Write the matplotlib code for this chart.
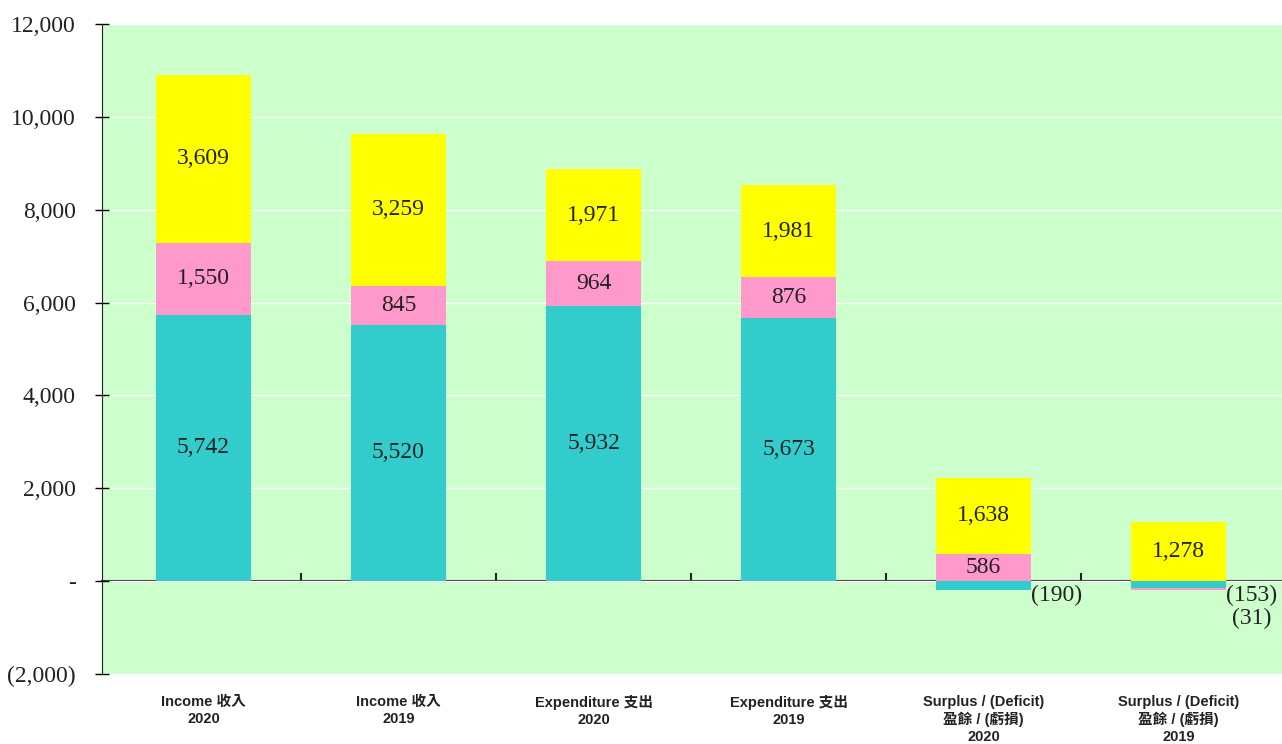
import numpy as np
import matplotlib.pyplot as plt
from matplotlib.ticker import FuncFormatter, FixedLocator

categories = [
    "Income 收入\n2020",
    "Income 收入\n2019",
    "Expenditure 支出\n2020",
    "Expenditure 支出\n2019",
    "Surplus / (Deficit)\n盈餘 / (虧損)\n2020",
    "Surplus / (Deficit)\n盈餘 / (虧損)\n2019",
]
teal_vals = [5742, 5520, 5932, 5673, -190, -153]
pink_vals = [1550, 845, 964, 876, 586, -31]
yellow_vals = [3609, 3259, 1971, 1981, 1638, 1278]

series = [teal_vals, pink_vals, yellow_vals]
colors = ["#33CCCC", "#FF99CC", "#FFFF00"]

num_font = "Liberation Serif"
lab_font = ["Liberation Sans", "Noto Sans CJK TC"]
txt_color = "#222222"

fig = plt.figure(figsize=(12.82, 7.44), dpi=100)
ax = fig.add_axes([102 / 1282, 1 - 674 / 744, 1180 / 1282, 650 / 744])
ax.set_facecolor("#CCFFCC")

x = np.arange(len(categories))
width = 0.49

# stack positives upward and negatives downward
pos_base = np.zeros(len(x))
neg_base = np.zeros(len(x))
neg_labels = [[] for _ in x]
for vals, col in zip(series, colors):
    vals = np.array(vals, dtype=float)
    bottoms = np.where(vals >= 0, pos_base, neg_base)
    ax.bar(x, vals, width, bottom=bottoms, color=col, zorder=2)
    for i, v in enumerate(vals):
        if v >= 0:
            ax.text(x[i], bottoms[i] + v / 2, f"{int(v):,}", ha="center", va="center",
                    fontsize=17, family=num_font, color=txt_color, zorder=4)
        else:
            neg_labels[i].append(f"({int(-v):,})")
    pos_base += np.where(vals >= 0, vals, 0)
    neg_base += np.where(vals < 0, vals, 0)

# negative values are labelled beside the bar, below the zero line
for i, labs in enumerate(neg_labels):
    if labs:
        ax.annotate("\n".join(labs), (x[i] + width / 2, 0), xytext=(0, -3),
                    textcoords="offset points", ha="left", va="top",
                    multialignment="center", linespacing=1.1,
                    fontsize=17, family=num_font, color=txt_color, zorder=4)

ax.set_ylim(-2000, 12000)
ax.set_xlim(-0.52, 5.53)
ax.set_yticks(np.arange(-2000, 12001, 2000))


def fmt(v, pos):
    if v == 0:
        return "-"
    if v < 0:
        return f"({int(-v):,})"
    return f"{int(v):,}"


ax.yaxis.set_major_formatter(FuncFormatter(fmt))
ax.tick_params(axis="y", direction="inout", length=10, width=1, pad=14,
               labelsize=17, labelcolor=txt_color)
for t in ax.get_yticklabels():
    t.set_family(num_font)

ax.yaxis.grid(True, color="white", lw=1, zorder=0)
ax.set_axisbelow(True)

ax.set_xticks(x)
ax.set_xticklabels(categories, fontsize=10.5, fontweight="bold", family=lab_font,
                   linespacing=1.25, color=txt_color, va="top")
ax.tick_params(axis="x", length=0, pad=15)

for s in ["top", "right", "bottom"]:
    ax.spines[s].set_visible(False)
ax.spines["left"].set_color("#222222")

# zero line with category dividers
zero_ax = ax.secondary_xaxis(2000 / 14000)
zero_ax.xaxis.set_major_locator(FixedLocator(x[:-1] + 0.5))
zero_ax.tick_params(direction="in", length=6, width=1.5, labelbottom=False,
                    labeltop=False, color="#222222")
zero_ax.spines["bottom"].set_color("#222222")
zero_ax.spines["bottom"].set_linewidth(1.5)

fig.savefig("out.png", dpi=100)
